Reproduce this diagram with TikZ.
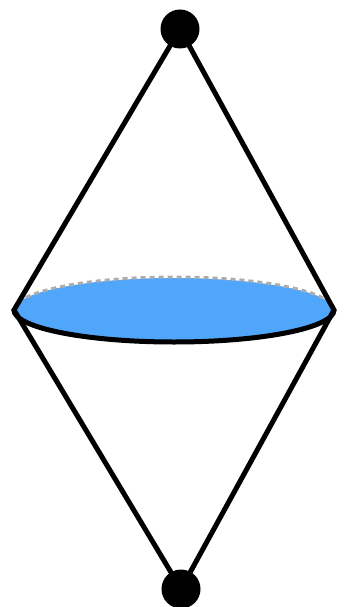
\documentclass[tikz,border=0pt]{standalone}
\usepackage{tikz}
\usetikzlibrary{positioning}

\definecolor{diskblue}{RGB}{80,166,250}

\begin{document}
\begin{tikzpicture}[x=1pt,y=-1pt]
\useasboundingbox (0,0) rectangle (343,607);
\tikzset{tip/.style={circle,fill=black,inner sep=0pt,minimum size=39pt},
  edge/.style={line width=5pt,black},
  rim/.style={line width=3pt,gray!65,dash pattern=on 5pt off 4pt}}
\coordinate (L) at (14,310); \coordinate (R) at (334,310);
\node[tip] (top) at (180,29) {};
\node[tip] (bot) at (181,589) {};
% the disc
\fill[diskblue] (174,310) ellipse (160 and 32);
\draw[rim] (L) arc (180:360:160 and 33);
\draw[edge] (L) arc (180:0:160 and 32);
% the cone sides
\draw[edge] (top.center) -- (L) -- (bot.center);
\draw[edge] (top.center) -- (R) -- (bot.center);
\end{tikzpicture}
\end{document}
